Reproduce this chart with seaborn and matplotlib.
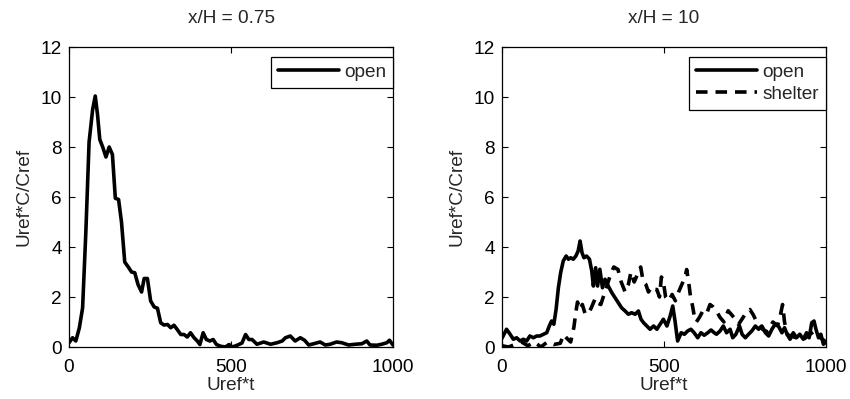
import numpy as np
import pandas as pd
import matplotlib
matplotlib.use("Agg")
import matplotlib.pyplot as plt
import seaborn as sns

# ---- data -------------------------------------------------------------
titles = ["x/H = 0.75", "x/H = 10"]
x_label = "Uref*t"
y_label = "Uref*C/Cref"
x_ticks = [0, 500, 1000]
y_ticks = [0, 2, 4, 6, 8, 10, 12]

t_left_open = [0, 11, 21, 32, 42, 52, 62, 73, 81, 88, 95, 104, 114, 124, 134, 143, 153, 162,
               172, 183, 193, 203, 213, 224, 232, 242, 252, 263, 273, 283, 293, 304, 314, 324,
               334, 345, 355, 365, 375, 386, 396, 404, 414, 424, 435, 445, 455, 468, 483, 494,
               504, 519, 534, 545, 555, 565, 580, 601, 622, 642, 658, 668, 683, 698, 714, 727,
               740, 755, 775, 791, 806, 826, 842, 863, 883, 904, 919, 929, 950, 965, 981, 989, 1000]
c_left_open = [0.17, 0.37, 0.24, 0.77, 1.57, 4.6, 8.2, 9.5, 10.04, 9.3, 8.3, 8.0, 7.6, 8.0, 7.7,
               5.95, 5.9, 5.0, 3.4, 3.2, 3.0, 2.97, 2.5, 2.2, 2.74, 2.74, 1.84, 1.6, 1.55, 0.97,
               0.88, 0.9, 0.77, 0.87, 0.7, 0.5, 0.5, 0.4, 0.57, 0.37, 0.24, 0.1, 0.57, 0.3, 0.24,
               0.3, 0.1, 0.03, 0.0, 0.1, 0.0, 0.07, 0.16, 0.5, 0.3, 0.3, 0.11, 0.2, 0.11, 0.17,
               0.24, 0.37, 0.44, 0.24, 0.37, 0.27, 0.08, 0.13, 0.2, 0.08, 0.11, 0.2, 0.17, 0.08,
               0.11, 0.13, 0.24, 0.08, 0.07, 0.11, 0.17, 0.27, 0.08]

t_right_open = [0, 14, 25, 35, 45, 56, 66, 76, 86, 97, 107, 117, 128, 138, 146, 153, 160, 167,
                174, 181, 189, 198, 205, 212, 220, 228, 235, 241, 247, 253, 261, 270, 277, 282,
                289, 295, 302, 310, 318, 328, 339, 349, 359, 369, 380, 390, 400, 411, 421, 429,
                437, 447, 457, 468, 478, 488, 498, 509, 519, 527, 534, 542, 553, 563, 573, 583,
                593, 604, 614, 624, 635, 645, 655, 662, 673, 683, 693, 704, 712, 722, 733, 741,
                751, 761, 771, 782, 792, 802, 813, 823, 833, 843, 853, 864, 872, 880, 889, 899,
                909, 919, 930, 940, 948, 956, 963, 969, 977, 984, 992, 1000]
c_right_open = [0.35, 0.71, 0.51, 0.31, 0.37, 0.24, 0.31, 0.24, 0.44, 0.37, 0.44, 0.44, 0.51,
                0.57, 0.84, 1.04, 0.91, 1.51, 2.37, 2.97, 3.44, 3.64, 3.51, 3.57, 3.51, 3.64,
                3.84, 4.24, 3.77, 3.57, 3.64, 3.51, 3.04, 2.44, 3.17, 2.44, 3.11, 2.37, 2.71,
                2.44, 2.17, 1.97, 1.77, 1.57, 1.44, 1.31, 1.37, 1.31, 1.44, 1.11, 0.97, 0.84,
                0.71, 0.84, 0.71, 0.91, 1.11, 0.84, 1.24, 1.64, 1.04, 0.24, 0.57, 0.51, 0.64,
                0.71, 0.57, 0.37, 0.57, 0.47, 0.57, 0.68, 0.57, 0.51, 0.64, 0.84, 0.57, 0.71,
                0.37, 0.51, 0.84, 0.51, 0.37, 0.51, 0.64, 0.84, 0.71, 0.84, 0.57, 0.44, 0.71,
                0.91, 0.84, 0.57, 0.77, 0.51, 0.31, 0.57, 0.37, 0.51, 0.31, 0.57, 0.37, 0.97,
                1.04, 0.71, 0.37, 0.51, 0.11, 0.2]

t_right_shelter = [0, 20, 40, 60, 80, 100, 120, 140, 160, 180, 190, 200, 212, 222, 228, 233,
                   240, 248, 256, 264, 275, 288, 296, 305, 320, 335, 345, 358, 368, 380, 390,
                   398, 408, 418, 428, 436, 444, 452, 462, 470, 478, 486, 492, 498, 505, 515,
                   525, 535, 545, 555, 565, 570, 576, 582, 588, 594, 600, 610, 620, 632, 642,
                   652, 662, 672, 685, 698, 708, 718, 730, 745, 757, 765, 775, 790, 805, 820,
                   836, 850, 858, 866, 872, 880, 900, 930, 960, 980, 1000]
c_right_shelter = [0.05, 0.0, 0.1, 0.2, 0.05, 0.2, 0.0, 0.2, 0.1, 0.15, 0.5, 0.35, 0.2, 0.8,
                   1.4, 1.8, 1.5, 1.7, 1.35, 1.3, 1.55, 1.95, 1.75, 1.7, 2.3, 2.9, 3.2, 3.1,
                   2.6, 2.2, 2.5, 3.0, 2.6, 2.9, 3.2, 2.6, 2.5, 2.2, 2.4, 2.3, 2.3, 2.0, 2.8,
                   2.6, 2.0, 1.85, 2.1, 1.85, 2.2, 2.5, 2.8, 3.1, 2.6, 2.0, 1.65, 1.2, 1.0,
                   1.2, 1.45, 1.35, 1.7, 1.6, 1.45, 1.2, 1.0, 1.45, 1.3, 1.15, 0.9, 1.2, 1.45,
                   1.5, 1.3, 0.9, 0.7, 0.6, 1.0, 0.85, 1.2, 1.7, 1.0, 0.5, 0.4, 0.3, 0.6, 0.4,
                   0.2]

# ---- style ------------------------------------------------------------
sns.set_theme(style="white")
plt.rcParams["font.family"] = ["Liberation Sans", "DejaVu Sans"]
plt.rcParams["font.size"] = 13.7
FS = 13.7

fig = plt.figure(figsize=(8.5, 3.99), dpi=100)
ax_l = fig.add_axes([69 / 850, 52 / 399, 324 / 850, 300 / 399])
ax_r = fig.add_axes([502 / 850, 52 / 399, 324 / 850, 300 / 399])

df_l = pd.DataFrame({"t": t_left_open, "c": c_left_open})
df_ro = pd.DataFrame({"t": t_right_open, "c": c_right_open})
df_rs = pd.DataFrame({"t": t_right_shelter, "c": c_right_shelter})

LW = 2.6
sns.lineplot(data=df_l, x="t", y="c", ax=ax_l, color="black", lw=LW, label="open",
             sort=False, estimator=None)
sns.lineplot(data=df_ro, x="t", y="c", ax=ax_r, color="black", lw=LW, label="open",
             sort=False, estimator=None)
sns.lineplot(data=df_rs, x="t", y="c", ax=ax_r, color="black", lw=LW, label="shelter",
             sort=False, estimator=None, linestyle=(0, (3.2, 2.2)))

for ax, title in zip([ax_l, ax_r], titles):
    ax.set_xlim(0, 1000)
    ax.set_ylim(0, 12)
    ax.set_xticks(x_ticks)
    ax.set_yticks(y_ticks)
    ax.set_title(title, fontsize=FS, pad=17)
    ax.set_xlabel(x_label, fontsize=FS, labelpad=0)
    ax.set_ylabel(y_label, fontsize=FS, labelpad=6)
    ax.tick_params(direction="in", length=4, width=0.8, colors="black", labelsize=FS,
                   top=True, right=True, bottom=True, left=True, pad=5)
    ax.tick_params(axis="x", pad=9)
    for s in ax.spines.values():
        s.set_visible(True)
        s.set_color("black")
        s.set_linewidth(0.9)
    ax.set_facecolor("white")
    leg = ax.legend(loc="upper right", bbox_to_anchor=(1.0, 0.967), borderaxespad=0,
                    fontsize=FS, handlelength=3.2, handletextpad=0.3, labelspacing=0.25,
                    borderpad=0.35, fancybox=False, frameon=True)
    leg.get_frame().set_edgecolor("black")
    leg.get_frame().set_linewidth(0.9)
    leg.get_frame().set_alpha(1)

fig.savefig("out.png", dpi=100, facecolor="white")
